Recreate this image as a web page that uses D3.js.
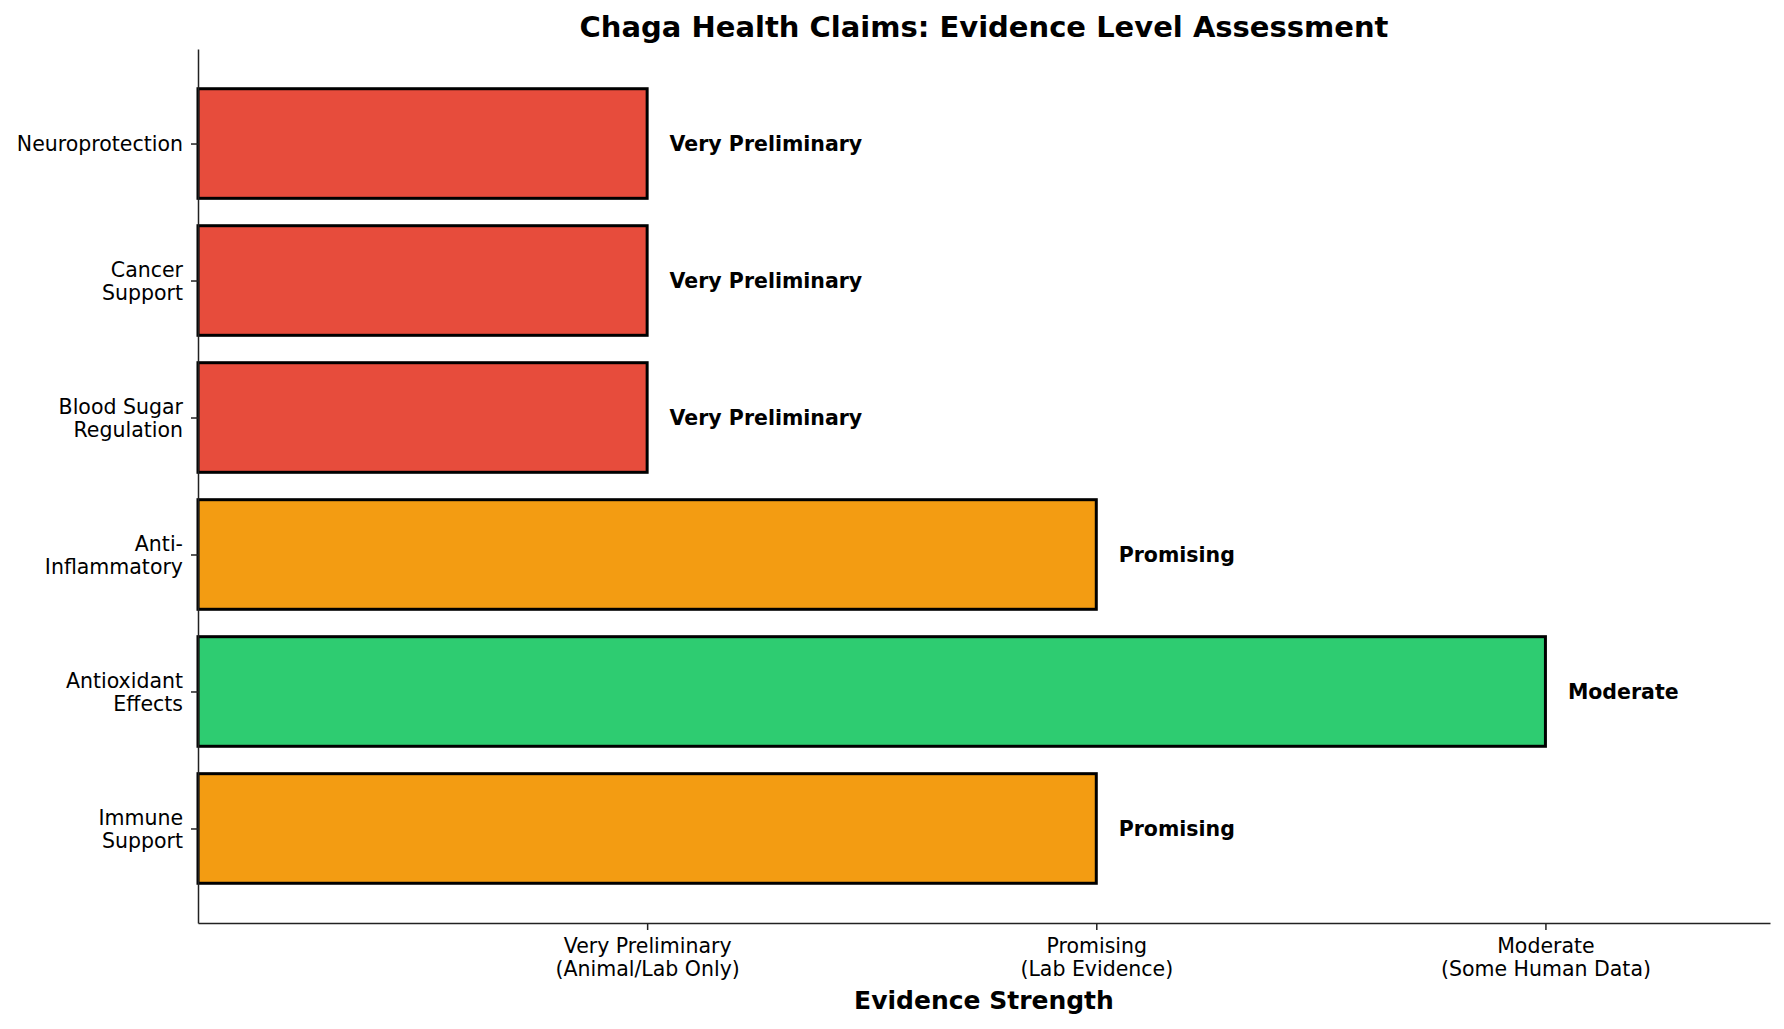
<!DOCTYPE html>
<html>
<head>
<meta charset="utf-8">
<script src="https://cdn.jsdelivr.net/npm/d3@7"></script>
<style>
  body { margin: 0; background: #fff; }
  text { font-family: "DejaVu Sans", sans-serif; }
</style>
</head>
<body>
<div id="chart"></div>
<script>
// claims listed bottom to top, as in the picture
var claims = ["Immune\nSupport", "Antioxidant\nEffects", "Anti-\nInflammatory",
  "Blood Sugar\nRegulation", "Cancer\nSupport", "Neuroprotection"];
var levels = [2, 3, 2, 1, 1, 1];
var levelNames = ["", "Very Preliminary", "Promising", "Moderate"];
var tickLabels = ["Very Preliminary\n(Animal/Lab Only)", "Promising\n(Lab Evidence)", "Moderate\n(Some Human Data)"];
var levelColors = ["", "#e74c3c", "#f39c12", "#2ecc71"];

var width = 1784, height = 1029;
var plotLeft = 198, plotRight = 1770, plotTop = 49, plotBottom = 923;
var fontSize = 20.5, lineH = 23;

var svg = d3.select("#chart").append("svg")
  .attr("width", width)
  .attr("height", height);

var x = d3.scaleLinear().domain([0, 3.5]).range([plotLeft, plotRight]);
var y = d3.scaleLinear().domain([-0.69, 5.69]).range([plotBottom, plotTop]);
var barH = y(0) - y(0.8);

// bars
svg.selectAll("rect.bar")
  .data(levels)
  .enter().append("rect")
  .attr("class", "bar")
  .attr("x", x(0))
  .attr("y", (d, i) => y(i + 0.4))
  .attr("width", d => x(d) - x(0))
  .attr("height", barH)
  .attr("fill", d => levelColors[d])
  .attr("stroke", "#000")
  .attr("stroke-width", 3);

// value labels
svg.selectAll("text.val")
  .data(levels)
  .enter().append("text")
  .attr("class", "val")
  .attr("x", d => x(d + 0.05))
  .attr("y", (d, i) => y(i))
  .attr("dy", "0.35em")
  .attr("font-size", fontSize)
  .attr("font-weight", "bold")
  .text(d => levelNames[d]);

// split "\n" labels into tspans; first line shifted by firstDy (px)
function multiline(sel, firstDy, centered) {
  sel.each(function() {
    var t = d3.select(this);
    var lines = t.text().split("\n");
    var tx = t.attr("x") || 0;
    t.text(null).attr("dy", null);
    var off = centered ? -(lines.length - 1) * lineH / 2 : 0;
    lines.forEach((s, k) => {
      t.append("tspan")
        .attr("x", tx)
        .attr("dy", k === 0 ? off + firstDy : lineH)
        .text(s);
    });
  });
}

// y axis
var yAxis = svg.append("g")
  .attr("transform", "translate(" + plotLeft + ",0)")
  .call(d3.axisLeft(y).tickValues(d3.range(claims.length))
    .tickFormat(i => claims[i]).tickSize(7).tickPadding(8).tickSizeOuter(0));
yAxis.selectAll("text")
  .attr("font-size", fontSize)
  .attr("fill", "#000")
  .call(multiline, fontSize * 0.35, true);

// x axis
var xAxis = svg.append("g")
  .attr("transform", "translate(0," + plotBottom + ")")
  .call(d3.axisBottom(x).tickValues([1, 2, 3])
    .tickFormat(d => tickLabels[d - 1]).tickSize(7).tickPadding(8).tickSizeOuter(0));
xAxis.selectAll("text")
  .attr("font-size", fontSize)
  .attr("fill", "#000")
  .call(multiline, fontSize * 0.71, false);

svg.selectAll(".domain, .tick line")
  .attr("stroke", "#222")
  .attr("stroke-width", 1.5);

// axis title
svg.append("text")
  .attr("x", (plotLeft + plotRight) / 2)
  .attr("y", 1000)
  .attr("dy", "0.35em")
  .attr("text-anchor", "middle")
  .attr("font-size", 25)
  .attr("font-weight", "bold")
  .text("Evidence Strength");

// chart title
svg.append("text")
  .attr("x", (plotLeft + plotRight) / 2)
  .attr("y", 27)
  .attr("dy", "0.35em")
  .attr("text-anchor", "middle")
  .attr("font-size", 29)
  .attr("font-weight", "bold")
  .text("Chaga Health Claims: Evidence Level Assessment");
</script>
</body>
</html>
